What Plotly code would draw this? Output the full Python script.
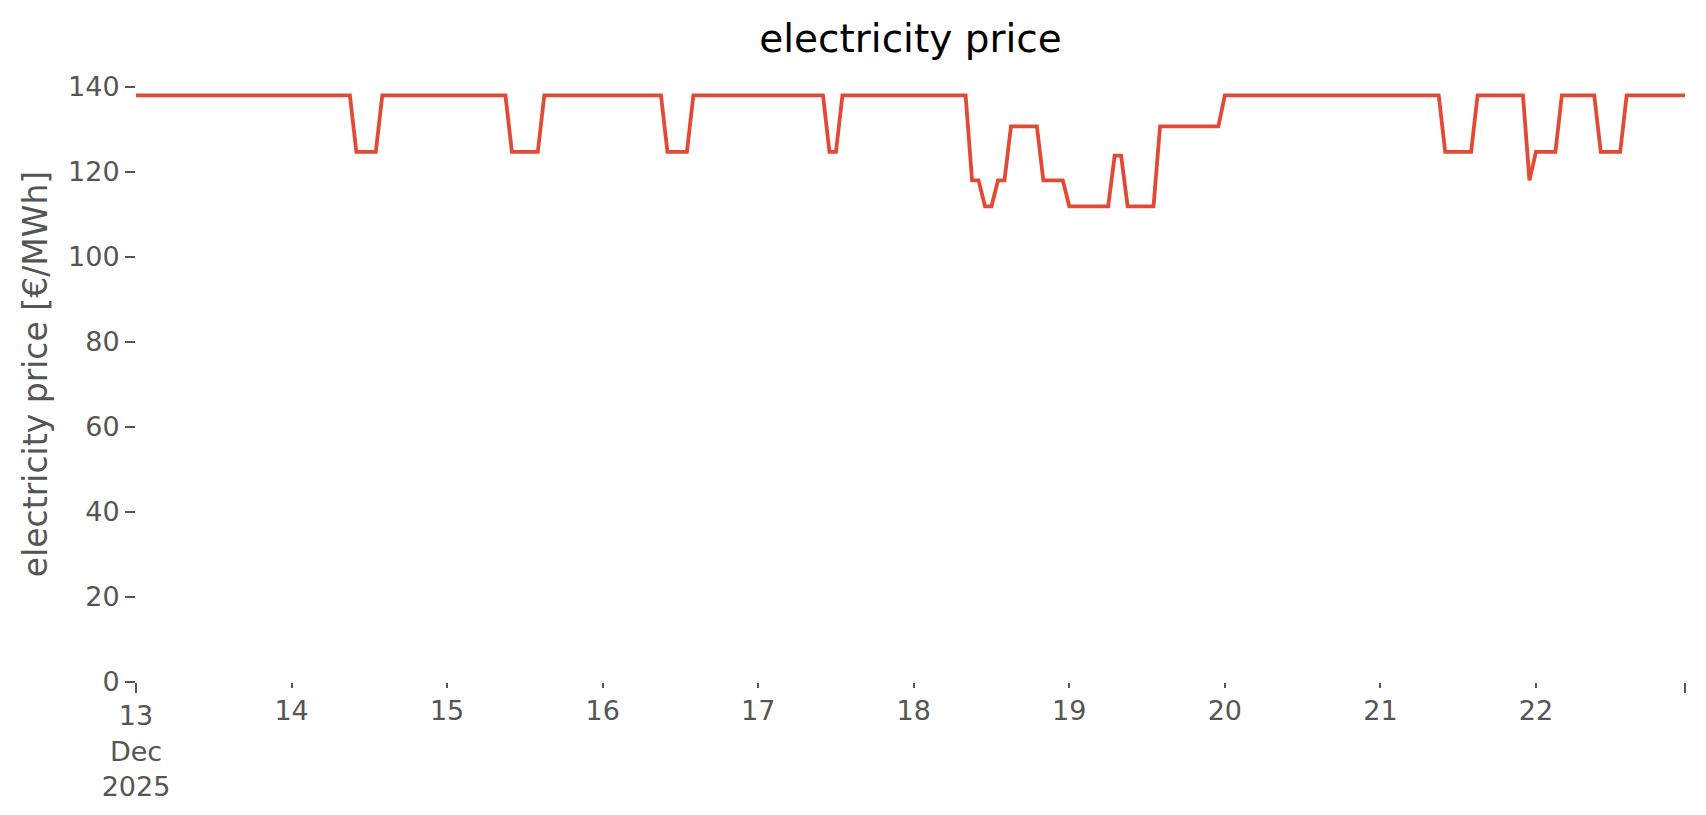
import pandas as pd
import plotly.graph_objects as go

# hourly electricity price [€/MWh], one list per day (13 Dec 2025 ... 22 Dec 2025)
day_13 = [138.0, 138.0, 138.0, 138.0, 138.0, 138.0, 138.0, 138.0, 138.0, 138.0, 138.0, 138.0,
          138.0, 138.0, 138.0, 138.0, 138.0, 138.0, 138.0, 138.0, 138.0, 138.0, 138.0, 138.0]
day_14 = [138.0, 138.0, 138.0, 138.0, 138.0, 138.0, 138.0, 138.0, 138.0, 138.0, 124.7, 124.7,
          124.7, 124.7, 138.0, 138.0, 138.0, 138.0, 138.0, 138.0, 138.0, 138.0, 138.0, 138.0]
day_15 = [138.0, 138.0, 138.0, 138.0, 138.0, 138.0, 138.0, 138.0, 138.0, 138.0, 124.7, 124.7,
          124.7, 124.7, 124.7, 138.0, 138.0, 138.0, 138.0, 138.0, 138.0, 138.0, 138.0, 138.0]
day_16 = [138.0, 138.0, 138.0, 138.0, 138.0, 138.0, 138.0, 138.0, 138.0, 138.0, 124.7, 124.7,
          124.7, 124.7, 138.0, 138.0, 138.0, 138.0, 138.0, 138.0, 138.0, 138.0, 138.0, 138.0]
day_17 = [138.0, 138.0, 138.0, 138.0, 138.0, 138.0, 138.0, 138.0, 138.0, 138.0, 138.0, 124.7,
          124.7, 138.0, 138.0, 138.0, 138.0, 138.0, 138.0, 138.0, 138.0, 138.0, 138.0, 138.0]
day_18 = [138.0, 138.0, 138.0, 138.0, 138.0, 138.0, 138.0, 138.0, 138.0, 118.0, 118.0, 111.9,
          111.9, 118.0, 118.0, 130.7, 130.7, 130.7, 130.7, 130.7, 118.0, 118.0, 118.0, 118.0]
day_19 = [111.9, 111.9, 111.9, 111.9, 111.9, 111.9, 111.9, 123.8, 123.8, 111.9, 111.9, 111.9,
          111.9, 111.9, 130.7, 130.7, 130.7, 130.7, 130.7, 130.7, 130.7, 130.7, 130.7, 130.7]
day_20 = [138.0, 138.0, 138.0, 138.0, 138.0, 138.0, 138.0, 138.0, 138.0, 138.0, 138.0, 138.0,
          138.0, 138.0, 138.0, 138.0, 138.0, 138.0, 138.0, 138.0, 138.0, 138.0, 138.0, 138.0]
day_21 = [138.0, 138.0, 138.0, 138.0, 138.0, 138.0, 138.0, 138.0, 138.0, 138.0, 124.7, 124.7,
          124.7, 124.7, 124.7, 138.0, 138.0, 138.0, 138.0, 138.0, 138.0, 138.0, 138.0, 118.0]
day_22 = [124.7, 124.7, 124.7, 124.7, 138.0, 138.0, 138.0, 138.0, 138.0, 138.0, 124.7, 124.7,
          124.7, 124.7, 138.0, 138.0, 138.0, 138.0, 138.0, 138.0, 138.0, 138.0, 138.0, 138.0]

price = (day_13 + day_14 + day_15 + day_16 + day_17 + day_18 + day_19 + day_20
         + day_21 + day_22)
timestamps = pd.date_range("2025-12-13 00:00", periods=len(price), freq="h")

# axis ticks
day_tick_vals = ["2025-12-14", "2025-12-15", "2025-12-16", "2025-12-17", "2025-12-18",
                 "2025-12-19", "2025-12-20", "2025-12-21", "2025-12-22"]
day_tick_text = ["14", "15", "16", "17", "18", "19", "20", "21", "22"]
major_tick_vals = [timestamps[0], timestamps[-1]]
major_tick_text = ["13<br>Dec<br>2025", ""]
y_tick_vals = [0, 20, 40, 60, 80, 100, 120, 140]

TICK_COLOR = "#555555"
FONT = "DejaVu Sans"

fig = go.Figure()
fig.add_trace(go.Scatter(
    x=timestamps, y=price, mode="lines",
    line=dict(color="#E24A33", width=3.8),
    name="electricity price",
))
# helper (draws nothing) so that the overlaid major-tick axis is rendered
fig.add_trace(go.Scatter(
    x=[timestamps[0], timestamps[-1]], y=[price[0], price[-1]],
    mode="none", xaxis="x2", hoverinfo="skip", showlegend=False,
))

x_range = [timestamps[0], timestamps[-1]]

fig.update_layout(
    width=1706, height=815,
    margin=dict(l=136, r=21, t=66, b=133),
    plot_bgcolor="white", paper_bgcolor="white",
    font=dict(family=FONT, color=TICK_COLOR, size=27),
    showlegend=False,
    title=dict(text="electricity price", font=dict(family=FONT, size=39, color="black"),
               x=0.5, xref="paper", xanchor="center",
               y=1 - 38 / 815, yref="container", yanchor="middle"),
    xaxis=dict(type="date", range=x_range, tickmode="array",
               tickvals=day_tick_vals, ticktext=day_tick_text,
               ticks="outside", ticklen=5, tickwidth=2, tickcolor=TICK_COLOR,
               showgrid=False, zeroline=False, showline=False,
               tickfont=dict(family=FONT, size=27, color=TICK_COLOR)),
    xaxis2=dict(type="date", range=x_range, overlaying="x", side="bottom", anchor="y",
                tickmode="array", tickvals=major_tick_vals, ticktext=major_tick_text,
                ticks="outside", ticklen=10, tickwidth=2, tickcolor=TICK_COLOR,
                showgrid=False, zeroline=False, showline=False,
                tickfont=dict(family=FONT, size=27, color=TICK_COLOR)),
    yaxis=dict(range=[0, 144.9], tickmode="array", tickvals=y_tick_vals,
               ticks="outside", ticklen=10, tickwidth=2, tickcolor=TICK_COLOR,
               showgrid=False, zeroline=False, showline=False,
               tickfont=dict(family=FONT, size=27, color=TICK_COLOR),
               title=dict(text="electricity price [€/MWh]",
                          font=dict(family=FONT, size=33, color=TICK_COLOR),
                          standoff=10)),
)

fig.write_html("out.html", config={"displayModeBar": False},
               post_script="document.body.style.margin='0';")
